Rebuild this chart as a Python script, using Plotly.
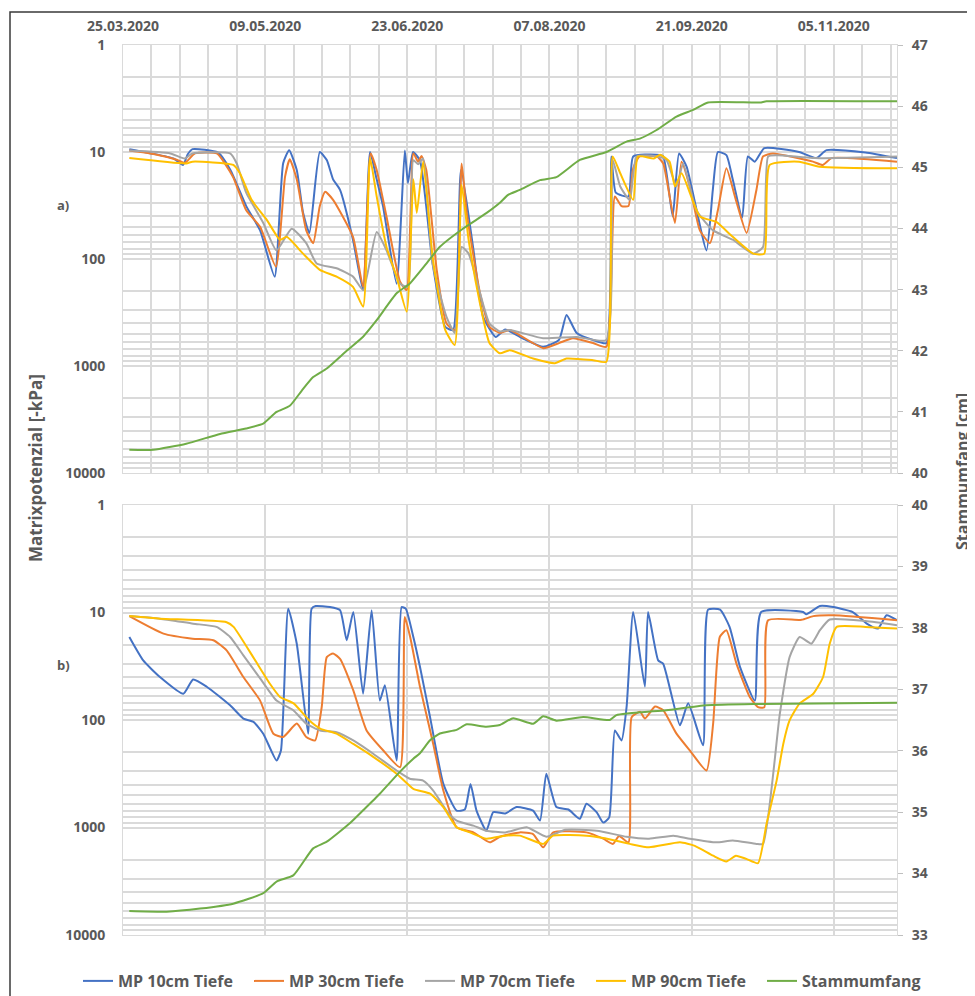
import pandas as pd
import plotly.graph_objects as go
from plotly.subplots import make_subplots

START = pd.Timestamp("2020-03-25")
END_DAY = 245

# ---------------- Panel a) ----------------
a_mp10_days = [2, 9, 16, 19, 20.5, 22, 30, 34, 39, 43.4, 48, 50.7, 52.6, 55, 57, 59, 62.3, 64.5, 66.5, 68.7, 72.8, 76,
               78.2, 80.3, 82.3, 86.6, 89.2, 90.2, 91.8, 94, 98, 102, 104.5, 107, 110.8, 114, 118, 121, 127, 133, 138,
               140.4, 143.6, 148.8, 153, 154.6, 156, 160, 161.5, 169, 171, 174, 176, 178.4, 184.7, 186.7, 188.3, 191,
               193, 196, 197.8, 200, 203, 214, 219.5, 222.7, 235, 245]
a_mp10_vals = [9.4, 10.3, 11.5, 13.2, 10.5, 9.4, 10.1, 14.7, 32, 54, 146, 12.7, 9.6, 14.7, 37, 57, 10, 11.9, 18, 22.6, 66,
               195, 10, 18, 32, 170, 9.7, 19.5, 10, 12, 110, 430, 460, 14.7, 77, 347, 534, 455, 560, 660, 570,
               333, 490, 570, 610, 11, 24, 26, 11, 10.6, 11, 40, 10.3, 13.7, 83, 22.6, 10, 10.7,
               18, 41, 11, 12.3, 9.2, 10, 11.4, 9.6, 10.1, 11.4]

a_mp30_days = [2, 10, 17, 19.6, 22.8, 29.7, 34.8, 39, 43.4, 48.4, 51.3, 52.8, 55, 58, 60.2, 62.3, 64, 66.5, 72.8, 76, 78.4,
               80.3, 83.4, 87.7, 89.8, 91.9, 93.4, 94.5, 96, 99.3, 102.4, 105, 107.2, 108.8, 113, 116, 119.3, 122.4,
               133, 138, 142.4, 148.8, 153, 155.7, 157.8, 160, 161.5, 163.5, 169, 171, 174.7, 176.8, 179.4, 182.6,
               185.8, 188.3, 191, 194, 197.4, 200.5, 202.6, 205.7, 218.4, 221.5, 224.3, 245]
a_mp30_vals = [9.7, 10.5, 11.8, 12.6, 10.3, 10.3, 17, 35, 50, 118, 17, 11.7, 18, 54, 71, 32, 23.5, 28, 62, 182, 10.3,
               14.7, 40, 163, 195, 10.3, 12.3, 10.9, 14.7, 126, 400, 460, 12.8, 37, 208, 430, 490, 460,
               680, 610, 550, 610, 660, 26, 32, 32, 14.2, 11, 11, 12.8, 46, 12.3, 21, 54,
               71, 35, 14.2, 28, 57, 22.6, 11, 10.3, 12.3, 13.2, 11.4, 12.3]

a_mp70_days = [2, 15, 19.6, 22, 33.9, 36, 39, 44.4, 48.6, 53.4, 58, 61.3, 67.6, 72.8, 76, 80.3, 83.4, 87.7, 90.2, 91.9,
               93.4, 95, 98, 102.4, 105, 107.2, 109.4, 113, 116, 119.3, 122.4, 133, 143.6, 153, 155, 157.4, 160.4,
               162.6, 169, 172, 175.2, 177.3, 181.5, 186.8, 193, 199.5, 202.6, 204.2, 207, 219, 245]
a_mp70_vals = [9.7, 10.3, 11.5, 10.3, 10.3, 12.8, 24, 46, 83, 52, 71, 110, 122, 146, 195, 56, 83, 170, 182, 11.9,
               13, 11.5, 110, 347, 490, 77, 89, 208, 400, 475, 460, 550, 534, 570, 11.9, 21, 28,
               11, 11, 11.8, 21, 12.8, 35, 54, 66, 89, 77, 11, 10.7, 11.4, 11]

a_mp90_days = [2, 20, 22, 34.9, 37, 40.7, 45.5, 49.7, 51.8, 57, 62.3, 67.6, 72.8, 76, 78.2, 80.3, 83.4, 86.6, 89.8, 91.9,
               93, 95, 98, 102, 105, 107.2, 109.4, 113, 116, 119.3, 122.4, 129.8, 136.7, 140.4, 148.8, 153, 155,
               157.4, 161.5, 163, 168, 170, 173, 174.7, 176.8, 182.6, 187.8, 193, 199.5, 203, 204.7, 214, 220.5, 245]
a_mp90_vals = [11.4, 12.8, 12.3, 13.2, 15.8, 28, 43, 66, 62, 89, 126, 146, 182, 279, 11.4, 26, 77, 146, 310, 18,
               37, 12.3, 95, 460, 635, 20.3, 66, 260, 610, 760, 710, 850, 940, 850, 880, 910, 11,
               15.8, 28, 11, 11.5, 10.6, 12.3, 21, 15.8, 40, 45, 62, 89, 89, 13.2, 12.3, 13.7, 14.2]

a_stamm_days = [2, 9.6, 20, 30.7, 39, 44.4, 48.6, 52.8, 56.6, 60.2, 64.5, 70.8, 76, 80.3, 86.6, 90.8, 96.1, 100.3, 107.7,
                115, 119.3, 121.9, 125.6, 132, 137.2, 144.6, 153, 159.4, 163.6, 168.9, 175.2, 180.5, 185.2, 201.6,
                203.7, 245]
a_stamm_vals = [40.38, 40.38, 40.48, 40.64, 40.73, 40.81, 41.0, 41.1, 41.35, 41.57, 41.71, 42.0, 42.23, 42.5, 42.94,
                43.1, 43.43, 43.7, 44.0, 44.25, 44.42, 44.55, 44.63, 44.79, 44.84, 45.12, 45.25, 45.42, 45.47, 45.61,
                45.83, 45.94, 46.06, 46.06, 46.08, 46.08]

# ---------------- Panel b) ----------------
b_mp10_days = [2, 6.4, 11.7, 19.1, 22.2, 26.5, 33.9, 38.1, 41.3, 44.4, 48.6, 50, 52.3, 55, 58.6, 59.7, 61, 65.5, 68.7,
               70.8, 72.9, 76, 78.7, 81.3, 82.9, 86.6, 88.2, 89.5, 91.9, 94, 97.2, 101.4, 105.6, 108.2, 110, 111.9, 115,
               117.2, 121, 124.6, 129.8, 132, 134, 137.2, 141, 144.6, 146.7, 149.9, 152, 153.9, 155.7, 157.8, 159.4,
               161.5, 165.2, 166.2, 169.4, 171, 176.3, 178.9, 183.6, 185.2, 189, 192, 195.3, 200, 202, 215.3, 216.3,
               220.6, 224.8, 231, 235.3, 239, 241.7, 245]
b_mp10_vals = [16.9, 27.9, 39.8, 57, 42, 49, 73, 97, 104, 134, 238, 192, 9.2, 19.5, 134, 9.2, 8.7, 8.9, 9.5,
               18.1, 9.9, 57, 9.5, 66, 47.6, 238, 8.9, 9.2, 16.9, 32, 94, 393, 696, 680, 393, 696, 1070,
               720, 740, 646, 696, 863, 316, 646, 680, 830, 600, 720, 900, 804, 125, 155, 76,
               9.9, 49, 9.9, 27.9, 30, 112, 70, 172, 9.4, 9.4, 13.6, 32, 66, 9.9, 9.9, 10.4,
               8.7, 8.9, 9.9, 12.6, 14.1, 10.6, 11.8]

b_mp30_days = [2, 12.8, 22, 28.6, 32.8, 38.1, 43.4, 47.6, 50.7, 55, 58, 60.8, 62.9, 64.5, 66.5, 68.7, 72.9, 77.1, 82.4,
               87.7, 89.2, 90.9, 94, 98.2, 101.4, 105.6, 110.9, 116.1, 119.3, 125.6, 129.8, 133, 136.2, 146.7, 152,
               155.1, 157, 160, 161, 163.7, 165.2, 168.4, 171, 175.2, 179.4, 184.7, 186.8, 188.9, 191, 194.2, 198.4,
               201, 203, 204.2, 214.8, 218.5, 224.8, 245]
b_mp30_vals = [10.8, 15.7, 17.5, 18.1, 22.5, 39.8, 66, 134, 144, 108, 144, 155, 76, 26, 24, 27, 53, 125, 192,
               275, 11, 16.9, 49, 167, 453, 995, 1110, 1374, 1220, 1110, 1150, 1530, 1110, 1110, 1270,
               1420, 1200, 1374, 94, 84, 97, 75, 81, 134, 192, 295, 108, 16.9, 14.6, 30, 61,
               76, 76, 11.8, 11.7, 10.8, 10.6, 11.8]

b_mp70_days = [2, 11.7, 22.2, 29.6, 33.9, 38.1, 43.4, 48.6, 53.9, 58, 62.4, 67.6, 72.9, 79.2, 86.6, 90.8, 95, 98.2, 102.4,
               105.6, 110.9, 115, 121, 127.8, 134, 140, 150, 159.4, 166.5, 174.2, 179.4, 187.8, 193, 200.5, 202.6,
               207.9, 211, 214.2, 217.9, 220.6, 223.7, 235, 245]
b_mp70_vals = [10.8, 11.4, 12.7, 13.6, 16.9, 25, 41, 66, 81, 108, 125, 130, 155, 206, 295, 352, 366, 453, 696,
               863, 960, 1070, 1110, 995, 1220, 1050, 1070, 1220, 1270, 1190, 1270, 1374, 1320, 1420, 1420,
               88, 26, 16.9, 19.5, 14.6, 11.6, 12, 13.1]

b_mp90_days = [2, 11.7, 32.8, 35, 41.2, 46.5, 49.7, 54, 59, 62.4, 67.6, 72.9, 79.2, 86.6, 91.9, 97.2, 101.4, 105.6, 109.8,
               115, 121, 125.6, 133, 136.2, 146.7, 152, 160.4, 166.5, 176.3, 181, 186.8, 191, 194, 197.3, 201, 203.7,
               206.9, 209, 211, 214.2, 218.5, 221.6, 223.7, 225.9, 235, 245]
b_mp90_vals = [10.8, 11.4, 12.3, 13.6, 26, 46, 61, 70, 101, 120, 134, 167, 220, 316, 437, 485, 646, 995, 1110,
               1270, 1190, 1190, 1420, 1190, 1190, 1250, 1420, 1530, 1374, 1480, 1830, 2070, 1830, 1960, 2150, 925,
               366, 167, 101, 70, 57, 39.8, 19.5, 13.6, 13.6, 14.1]

b_stamm_days = [2, 13.8, 24.4, 34.9, 44.4, 48.6, 53.9, 60.2, 64.5, 71.8, 76, 81.3, 87.7, 91.9, 94, 97.2, 100.3, 105.6,
                108.8, 115, 119.3, 123.5, 129.8, 133, 137.2, 145.7, 154.1, 156.2, 172, 184.7, 200, 245]
b_stamm_vals = [33.39, 33.38, 33.43, 33.51, 33.68, 33.87, 33.97, 34.41, 34.52, 34.82, 35.03, 35.30, 35.66, 35.87, 35.96,
                36.17, 36.28, 36.34, 36.43, 36.39, 36.42, 36.53, 36.44, 36.56, 36.49, 36.55, 36.50, 36.58, 36.66,
                36.74, 36.76, 36.78]

series_names = ["MP 10cm Tiefe", "MP 30cm Tiefe", "MP 70cm Tiefe", "MP 90cm Tiefe", "Stammumfang"]
colors = ["#4472C4", "#ED7D31", "#A5A5A5", "#FFC000", "#70AD47"]

y_ticks = [1, 10, 100, 1000, 10000]
a_right_range = [40, 47]
b_right_range = [33, 40]


def to_dates(days):
    return START + pd.to_timedelta(days, unit="D")


fig = make_subplots(rows=2, cols=1, shared_xaxes=True,
                    specs=[[{"secondary_y": True}], [{"secondary_y": True}]])

panels = [
    (1, [(a_mp10_days, a_mp10_vals), (a_mp30_days, a_mp30_vals), (a_mp70_days, a_mp70_vals),
         (a_mp90_days, a_mp90_vals)], (a_stamm_days, a_stamm_vals)),
    (2, [(b_mp10_days, b_mp10_vals), (b_mp30_days, b_mp30_vals), (b_mp70_days, b_mp70_vals),
         (b_mp90_days, b_mp90_vals)], (b_stamm_days, b_stamm_vals)),
]

LINE_SHAPE = dict(shape="spline", smoothing=0.5)

for row, mps, stamm in panels:
    for i, (d, v) in enumerate(mps):
        fig.add_trace(go.Scatter(x=to_dates(d), y=v, mode="lines", name=series_names[i],
                                 line=dict(color=colors[i], width=2, **LINE_SHAPE), legendgroup=series_names[i],
                                 showlegend=(row == 1)), row=row, col=1, secondary_y=False)
    fig.add_trace(go.Scatter(x=to_dates(stamm[0]), y=stamm[1], mode="lines", name=series_names[4],
                             line=dict(color=colors[4], width=2, **LINE_SHAPE), legendgroup=series_names[4],
                             showlegend=(row == 1)), row=row, col=1, secondary_y=True)

GRID = "#DADADA"
TICKFONT = dict(family="Open Sans", size=14, color="#595959", weight="bold")
DAY_MS = 86400000
minor_vals = [m * 10 ** e for e in range(0, 4) for m in range(2, 10)]

x_range = [START, START + pd.Timedelta(days=END_DAY)]

common_x = dict(type="date", range=x_range, domain=[0, 1], tick0=START, dtick=45 * DAY_MS, showgrid=True,
                gridcolor=GRID, gridwidth=1.5, zeroline=False, showline=True, mirror=True, linecolor=GRID,
                ticks="", automargin=False)
fig.update_layout(
    xaxis=dict(common_x, side="top", showticklabels=True, tickformat="%d.%m.%Y", tickfont=TICKFONT,
               ticklabelstandoff=7,
               minor=dict(dtick=9 * DAY_MS, tick0=START, showgrid=True, gridcolor=GRID, gridwidth=1.5)),
    xaxis2=dict(common_x, showticklabels=False),
)

for ax, dom in (("yaxis", [0.519, 1.0]), ("yaxis3", [0.0, 0.4831])):
    fig.layout[ax].update(type="log", range=[4, 0], domain=dom, tickvals=y_ticks,
                          ticktext=[str(t) for t in y_ticks], showgrid=True, gridcolor=GRID, gridwidth=1.5,
                          zeroline=False, showline=True, mirror=True, linecolor=GRID, ticks="",
                          tickfont=TICKFONT, ticklabelstandoff=14, automargin=False,
                          minor=dict(tickvals=minor_vals, showgrid=True, gridcolor=GRID, gridwidth=1.5))

for ax, rng in (("yaxis2", a_right_range), ("yaxis4", b_right_range)):
    fig.layout[ax].update(range=rng, dtick=1, showgrid=False, zeroline=False, ticks="outside", ticklen=5,
                          tickcolor="#BFBFBF", tickfont=TICKFONT, ticklabelstandoff=6, showline=False,
                          automargin=False)


# The page body adds an 8px offset; the plot area in the screenshot is x 123..897, y 45..935.
def px_x(px):
    return (px - 123) / 774.0


def px_y(py):
    return (935 - py) / 890.0


fig.update_layout(
    width=967, height=988,
    margin=dict(l=115, r=78, t=37, b=61, autoexpand=False),
    plot_bgcolor="white", paper_bgcolor="white",
    font=dict(family="Open Sans", color="#595959"),
    legend=dict(orientation="h", xref="paper", yref="paper", x=px_x(78), xanchor="left",
                y=px_y(981), yanchor="middle",
                font=dict(size=16, color="#595959", family="Open Sans", weight="bold"),
                entrywidth=126, entrywidthmode="pixels", itemwidth=30, tracegroupgap=0),
    shapes=[dict(type="rect", xref="paper", yref="paper", x0=px_x(10), x1=px_x(990), y0=px_y(1010),
                 y1=px_y(12), line=dict(color="#3A3A3A", width=1.5), layer="below")],
    annotations=[
        dict(text="a)", x=px_x(63), y=px_y(205), xref="paper", yref="paper", showarrow=False,
             xanchor="center", yanchor="middle", font=dict(size=13, color="#595959", weight="bold")),
        dict(text="b)", x=px_x(63), y=px_y(665), xref="paper", yref="paper", showarrow=False,
             xanchor="center", yanchor="middle", font=dict(size=13, color="#595959", weight="bold")),
        dict(text="Matrixpotenzial [-kPa]", x=px_x(36), y=px_y(468), xref="paper", yref="paper",
             xanchor="center", yanchor="middle",
             showarrow=False, textangle=-90, font=dict(size=17, color="#595959", weight="bold")),
        dict(text="Stammumfang [cm]", x=px_x(962), y=px_y(472), xref="paper", yref="paper",
             xanchor="center", yanchor="middle",
             showarrow=False, textangle=-90, font=dict(size=16, color="#595959", weight="bold")),
    ],
)

fig.write_html("out.html")
